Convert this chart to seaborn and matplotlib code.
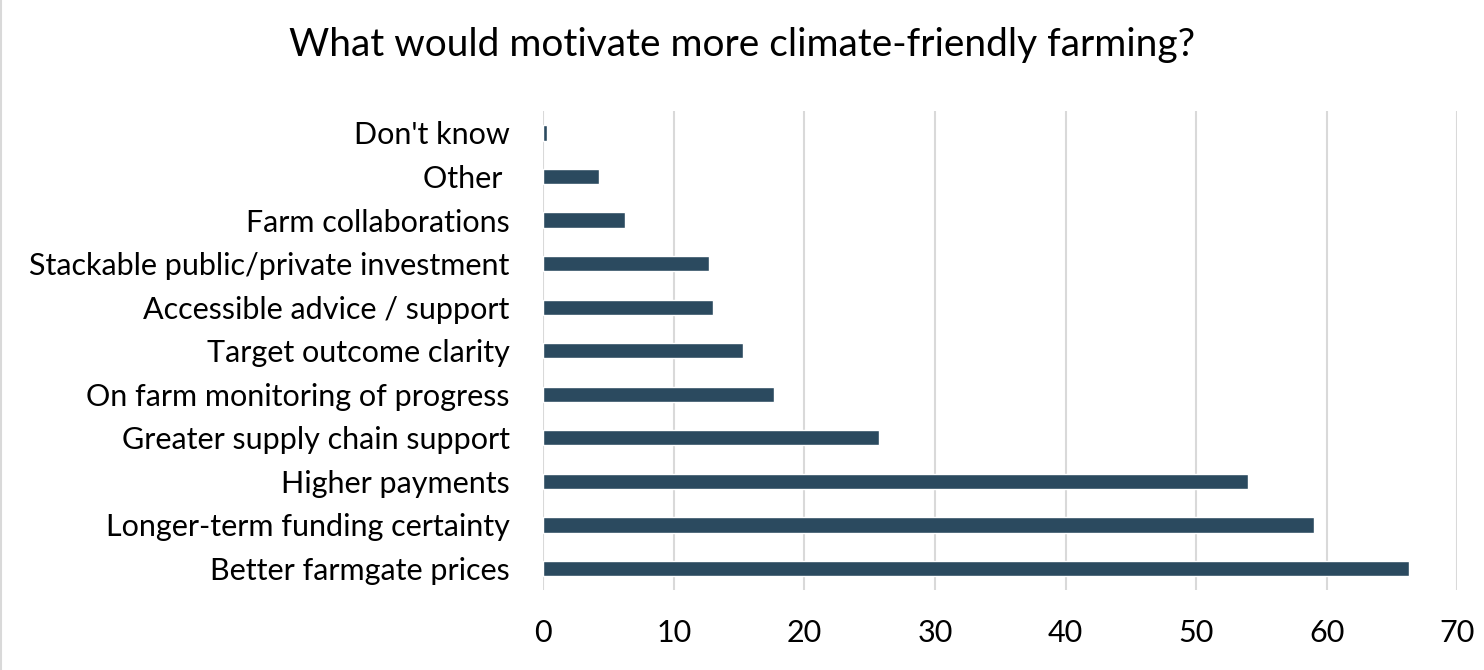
import pandas as pd
import matplotlib.pyplot as plt
import seaborn as sns

categories = [
    "Don't know",
    "Other ",
    "Farm collaborations",
    "Stackable public/private investment",
    "Accessible advice / support",
    "Target outcome clarity",
    "On farm monitoring of progress",
    "Greater supply chain support",
    "Higher payments",
    "Longer-term funding certainty",
    "Better farmgate prices",
]
values = [0.3, 4.3, 6.3, 12.7, 13.0, 15.3, 17.7, 25.7, 54.0, 59.0, 66.3]
x_ticks = [0, 10, 20, 30, 40, 50, 60, 70]

df = pd.DataFrame({"option": categories, "pct": values})

sns.set_style("white")
plt.rcParams["font.family"] = ["Lato", "DejaVu Sans"]
plt.rcParams["text.color"] = "black"
plt.rcParams["xtick.color"] = "black"
plt.rcParams["ytick.color"] = "black"

fig = plt.figure(figsize=(14.84, 6.7), dpi=100)
ax = fig.add_axes([0.366, 0.119, 0.616, 0.715])
sns.barplot(data=df, y="option", x="pct", order=categories, color="#2B4A5F",
            width=0.35, saturation=1, ax=ax)

ax.set_xlim(0, 70)
ax.set_xticks(x_ticks)
ax.grid(axis="x", color="#D9D9D9", linewidth=1.5)
ax.set_axisbelow(True)
for s in ax.spines.values():
    s.set_visible(False)
ax.tick_params(axis="x", length=7, width=1.5, color="#D9D9D9", labelcolor="black",
               labelsize=22, pad=14)
ax.tick_params(axis="y", length=0, labelsize=22, labelcolor="black", pad=24)
ax.set_xlabel("")
ax.set_ylabel("")
fig.suptitle("What would motivate more climate-friendly farming?", fontsize=28,
             x=0.500, y=0.96, color="black")
fig.add_artist(plt.Line2D([0.0007, 0.0007], [0, 1], color="#D9D9D9", linewidth=1.5))

plt.savefig("out.png", dpi=100)
